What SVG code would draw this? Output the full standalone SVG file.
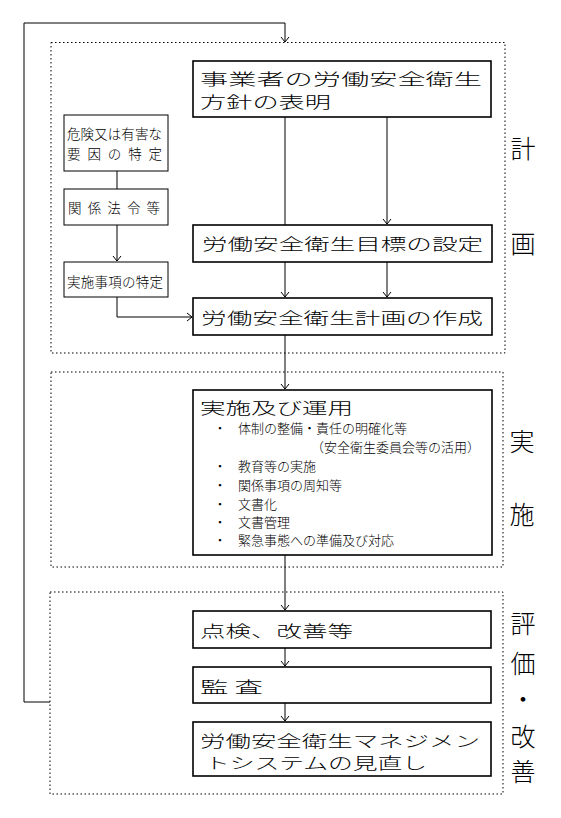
<svg xmlns="http://www.w3.org/2000/svg" width="561" height="818" viewBox="0 0 561 818">
<style>
  text { font-family: "Noto Sans CJK JP", "Noto Sans", sans-serif; fill: #000; dominant-baseline: central; }
  .big { fill: #fff; stroke: #000; stroke-width: 1.6; }
  .small { fill: #fff; stroke: #000; stroke-width: 1; }
  .zone { fill: none; stroke: #000; stroke-width: 1; stroke-dasharray: 1.5 2.5; }
  .conn { fill: none; stroke: #000; stroke-width: 1; }
  .head { fill: none; stroke: #000; stroke-width: 1; }
  .bt { font-size: 16px; font-weight: 300; }
  .bt2 { font-size: 15.5px; font-weight: 300; }
  .st { font-size: 13.5px; font-weight: 300; }
  .it { font-size: 13px; font-weight: 300; }
  .side { font-size: 25px; font-weight: 300; }
</style>
<rect width="561" height="818" fill="#fff"/>

<g id="zones">
  <rect class="zone" x="51" y="42.5" width="454" height="310.5"/>
  <rect class="zone" x="51" y="372" width="452" height="195"/>
  <rect class="zone" x="50" y="592" width="453" height="202"/>
</g>

<g id="connectors">
  <path class="conn" d="M50,702 H24 V23 H285 V41"/>
  <path class="head" d="M281,37 L285,42 L289,37"/>
  <path class="conn" d="M117,171 V189"/>
  <path class="conn" d="M117,225 V261"/>
  <path class="head" d="M113,256 L117,261 L121,256"/>
  <path class="conn" d="M117,297 V317 H192"/>
  <path class="head" d="M187,313 L192,317 L187,321"/>
  <path class="conn" d="M285,117 V225"/>
  <path class="conn" d="M387,117 V224"/>
  <path class="head" d="M383,219 L387,224 L391,219"/>
  <path class="conn" d="M285,262 V297"/>
  <path class="head" d="M281,292 L285,297 L289,292"/>
  <path class="conn" d="M387,262 V297"/>
  <path class="head" d="M383,292 L387,297 L391,292"/>
  <path class="conn" d="M285,335 V389"/>
  <path class="head" d="M281,384 L285,389 L289,384"/>
  <path class="conn" d="M285,555 V610"/>
  <path class="head" d="M281,605 L285,610 L289,605"/>
  <path class="conn" d="M285,648 V666"/>
  <path class="head" d="M281,661 L285,666 L289,661"/>
  <path class="conn" d="M285,703 V721"/>
  <path class="head" d="M281,716 L285,721 L289,716"/>
</g>

<g id="policy">
  <rect class="big" x="193" y="61" width="298" height="56"/>
  <text class="bt2" x="200" y="78" textLength="282" lengthAdjust="spacingAndGlyphs">事業者の労働安全衛生</text>
  <text class="bt2" x="200" y="100.5" textLength="131" lengthAdjust="spacingAndGlyphs">方針の表明</text>
</g>

<g id="hazard">
  <rect class="small" x="64" y="115" width="104" height="56"/>
  <text class="st" x="67" y="133" textLength="95">危険又は有害な</text>
  <text class="st" x="67" y="153" textLength="95">要因の特定</text>
</g>

<g id="law">
  <rect class="small" x="64" y="189" width="104" height="36"/>
  <text class="st" x="68" y="207" textLength="92">関係法令等</text>
</g>

<g id="items">
  <rect class="small" x="64" y="262" width="104" height="35"/>
  <text class="st" x="67" y="281" textLength="96">実施事項の特定</text>
</g>

<g id="goal">
  <rect class="big" x="193" y="225" width="299" height="37"/>
  <text class="bt" x="202" y="243" textLength="281" lengthAdjust="spacingAndGlyphs">労働安全衛生目標の設定</text>
</g>

<g id="plan">
  <rect class="big" x="193" y="298" width="299" height="37"/>
  <text class="bt" x="201" y="317" textLength="282" lengthAdjust="spacingAndGlyphs">労働安全衛生計画の作成</text>
</g>

<g id="implementation">
  <rect class="big" x="193" y="390" width="299" height="165"/>
  <text class="bt" x="200" y="407" textLength="153" lengthAdjust="spacingAndGlyphs">実施及び運用</text>
  <text class="it" x="220" y="427" text-anchor="middle">・</text>
  <text class="it" x="238" y="427">体制の整備・責任の明確化等</text>
  <text class="it" x="480" y="446" text-anchor="end">（安全衛生委員会等の活用）</text>
  <text class="it" x="220" y="465" text-anchor="middle">・</text>
  <text class="it" x="238" y="465">教育等の実施</text>
  <text class="it" x="220" y="484" text-anchor="middle">・</text>
  <text class="it" x="238" y="484">関係事項の周知等</text>
  <text class="it" x="220" y="503" text-anchor="middle">・</text>
  <text class="it" x="238" y="503">文書化</text>
  <text class="it" x="220" y="521" text-anchor="middle">・</text>
  <text class="it" x="238" y="521">文書管理</text>
  <text class="it" x="220" y="539" text-anchor="middle">・</text>
  <text class="it" x="238" y="539">緊急事態への準備及び対応</text>
</g>

<g id="check">
  <rect class="big" x="193" y="611" width="298" height="37"/>
  <text class="bt" x="200" y="630" textLength="153" lengthAdjust="spacingAndGlyphs">点検、改善等</text>
</g>

<g id="audit">
  <rect class="big" x="193" y="667" width="298" height="36"/>
  <text class="bt" x="200" y="686" textLength="63" lengthAdjust="spacingAndGlyphs">監 査</text>
</g>

<g id="review">
  <rect class="big" x="193" y="722" width="298" height="54"/>
  <text class="bt2" x="200" y="739.5" textLength="280" lengthAdjust="spacingAndGlyphs">労働安全衛生マネジメン</text>
  <text class="bt2" x="205" y="762" textLength="222" lengthAdjust="spacingAndGlyphs">トシステムの見直し</text>
</g>

<g id="labels">
  <text class="side" x="523" y="147" text-anchor="middle">計</text>
  <text class="side" x="523" y="242" text-anchor="middle">画</text>
  <text class="side" x="522" y="440" text-anchor="middle">実</text>
  <text class="side" x="522" y="513" text-anchor="middle">施</text>
  <text class="side" x="523" y="622" text-anchor="middle">評</text>
  <text class="side" x="523" y="662" text-anchor="middle">価</text>
  <text class="side" x="523" y="698" text-anchor="middle">・</text>
  <text class="side" x="523" y="735" text-anchor="middle">改</text>
  <text class="side" x="523" y="770" text-anchor="middle">善</text>
</g>
</svg>
